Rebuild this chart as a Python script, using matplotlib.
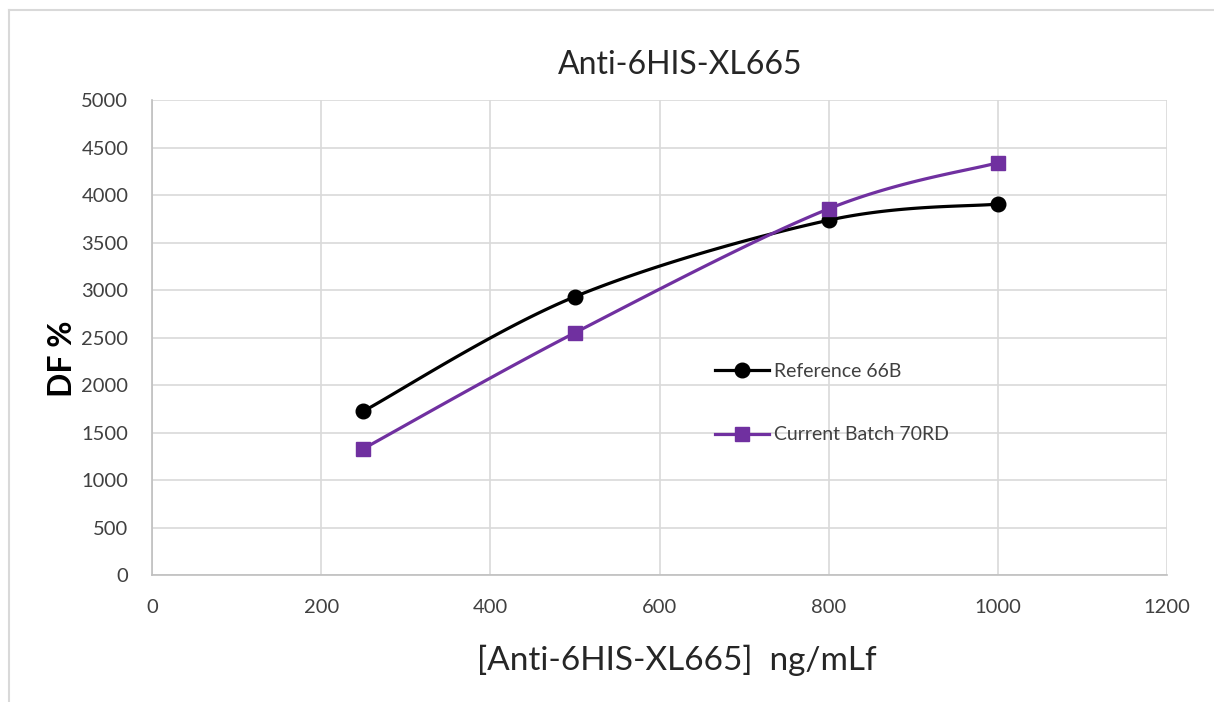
import numpy as np
import matplotlib

matplotlib.use("Agg")
import matplotlib.pyplot as plt
from matplotlib.lines import Line2D

plt.rcParams["font.family"] = ["Lato", "DejaVu Sans"]

concentration = [250, 500, 800, 1000]
reference_66b = [1725, 2930, 3735, 3905]
current_70rd = [1330, 2550, 3855, 4340]
x_ticks = [0, 200, 400, 600, 800, 1000, 1200]
y_ticks = [0, 500, 1000, 1500, 2000, 2500, 3000, 3500, 4000, 4500, 5000]


def excel_smooth(xs, ys, steps=40):
    """Excel-like smoothed line: Catmull-Rom Bezier segments."""
    pts = np.column_stack([xs, ys]).astype(float)
    padded = np.vstack([pts[0], pts, pts[-1]])
    out = []
    t = np.linspace(0, 1, steps)[:, None]
    for i in range(len(pts) - 1):
        p0, p1, p2, p3 = padded[i], padded[i + 1], padded[i + 2], padded[i + 3]
        c1 = p1 + (p2 - p0) / 6
        c2 = p2 - (p3 - p1) / 6
        seg = ((1 - t) ** 3) * p1 + 3 * ((1 - t) ** 2) * t * c1 + 3 * (1 - t) * t ** 2 * c2 + t ** 3 * p2
        out.append(seg if i == 0 else seg[1:])
    curve = np.vstack(out)
    return curve[:, 0], curve[:, 1]


fig = plt.figure(figsize=(12.14, 7.02), dpi=100)
ax = fig.add_axes([0.1252, 0.1809, 0.8361, 0.6766])

series = [
    ("Reference 66B", reference_66b, "black", "o", 10.5),
    ("Current Batch 70RD", current_70rd, "#7030A0", "s", 10),
]
for label, values, color, marker, size in series:
    sx, sy = excel_smooth(concentration, values)
    ax.plot(sx, sy, color=color, lw=2.3, zorder=3)
    ax.plot(concentration, values, ls="none", marker=marker, color=color, ms=size, zorder=4)
    ax.plot([], [], color=color, lw=2.3, marker=marker, ms=size, label=label)

ax.set_xlim(0, 1200)
ax.set_ylim(0, 5000)
ax.set_xticks(x_ticks)
ax.set_yticks(y_ticks)
ax.tick_params(length=0, labelsize=14.5, colors="#404040", pad=17)
ax.grid(True, color="#d9d9d9", lw=1.2)
ax.set_axisbelow(True)
for side in ["top", "right"]:
    ax.spines[side].set_visible(False)
for side in ["left", "bottom"]:
    ax.spines[side].set_color("#bfbfbf")
    ax.spines[side].set_linewidth(1.2)

ax.set_title("Anti-6HIS-XL665", fontsize=23, color="#262626", pad=19, x=0.52)
ax.set_xlabel("[Anti-6HIS-XL665]  ng/mLf", fontsize=24, color="#262626", labelpad=21, x=0.517)
ax.set_ylabel("DF %", fontsize=23, fontweight="bold", color="black", labelpad=3, y=0.455)

leg = ax.legend(loc="center left", bbox_to_anchor=(0.5547, 0.362), frameon=False,
                borderaxespad=0, borderpad=0, fontsize=14, labelspacing=2.4,
                handlelength=2.8, handletextpad=0.25)
for text in leg.get_texts():
    text.set_color("#404040")

# light chart-area frame (only left and top edges show in the export)
fig.add_artist(Line2D([0.0075, 0.0075], [0.0, 0.986], transform=fig.transFigure,
                      color="#d9d9d9", lw=1.5))
fig.add_artist(Line2D([0.0075, 0.999], [0.986, 0.986], transform=fig.transFigure,
                      color="#d9d9d9", lw=1.5))

fig.savefig("out.png", dpi=100)
